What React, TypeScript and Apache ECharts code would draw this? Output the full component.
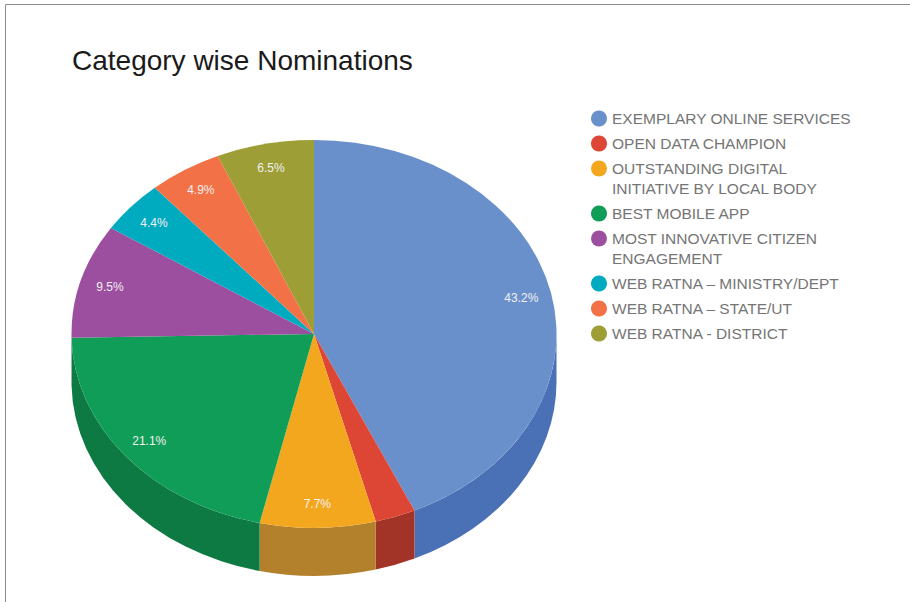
import React, { useEffect, useRef } from "react";
import * as echarts from "echarts";

const categories = [
  "EXEMPLARY ONLINE SERVICES",
  "OPEN DATA CHAMPION",
  "OUTSTANDING DIGITAL\nINITIATIVE BY LOCAL BODY",
  "BEST MOBILE APP",
  "MOST INNOVATIVE CITIZEN\nENGAGEMENT",
  "WEB RATNA – MINISTRY/DEPT",
  "WEB RATNA – STATE/UT",
  "WEB RATNA - DISTRICT",
];
const shares = [43.2, 2.7, 7.7, 21.1, 9.5, 4.4, 4.9, 6.5];
const topColors = ["#6a90cc", "#dd4535", "#f3a71e", "#0f9d58", "#9c4f9f", "#00abc0", "#f37146", "#9e9e36"];
const wallColors = ["#4a70b6", "#a23327", "#b3812c", "#0e7a43", "#733a76", "#007f8e", "#b45434", "#757528"];

const FONT = '"Liberation Sans", Arial, sans-serif';
const total = shares.reduce((a, b) => a + b, 0);

// Tilted pie geometry: ellipse of the top face and height of the rim.
const CX = 314;
const CY = 334;
const RX = 242.5;
const RY = 194;
const DEPTH = 48;
const LABEL_RADIUS = 0.875;
const MIN_LABELLED_SHARE = 4;

// Angles run clockwise from twelve o'clock, in degrees.
const point = (deg: number, scale = 1, dy = 0) => {
  const t = (deg * Math.PI) / 180;
  return [CX + RX * scale * Math.sin(t), CY - RY * scale * Math.cos(t) + dy];
};

const sliceRenderer = (index: number) => (_params: any, api: any) => {
  const value = api.value(0);
  const before = shares.slice(0, index).reduce((a, b) => a + b, 0);
  const start = (before / total) * 360;
  const end = ((before + value) / total) * 360;
  const children: any[] = [];

  // The rim is only visible along the front half of the ellipse.
  const a = Math.max(start, 90);
  const b = Math.min(end, 270);
  if (a < b) {
    const [x0, y0] = point(a);
    const [x1, y1] = point(b);
    children.push({
      type: "path",
      shape: {
        pathData:
          `M${x0} ${y0}A${RX} ${RY} 0 0 1 ${x1} ${y1}` +
          `L${x1} ${y1 + DEPTH}A${RX} ${RY} 0 0 0 ${x0} ${y0 + DEPTH}Z`,
      },
      style: { fill: wallColors[index] },
    });
  }

  const [sx, sy] = point(start);
  const [ex, ey] = point(end);
  const large = end - start > 180 ? 1 : 0;
  children.push({
    type: "path",
    shape: { pathData: `M${CX} ${CY}L${sx} ${sy}A${RX} ${RY} 0 ${large} 1 ${ex} ${ey}Z` },
    style: { fill: topColors[index] },
  });

  if (value >= MIN_LABELLED_SHARE) {
    const [lx, ly] = point((start + end) / 2, LABEL_RADIUS);
    children.push({
      type: "text",
      style: {
        text: `${value.toFixed(1)}%`,
        x: lx,
        y: ly,
        fill: "#f0f0f0",
        font: `12px ${FONT}`,
        align: "center",
        verticalAlign: "middle",
      },
    });
  }
  return { type: "group", children };
};

// Top edge of each legend row; wrapped names take a taller row.
const legendTops = [108.5, 133.5, 158.5, 203.5, 228.5, 273.5, 298.5, 323.5];
const WRAPPED_ICON = "path://M0 8A8 8 0 1 1 16 8A8 8 0 1 1 0 8ZM8 36L8 36";

export default function App() {
  const ref = useRef<HTMLDivElement>(null);

  useEffect(() => {
    document.body.style.margin = "0";
    const chart = echarts.init(ref.current!, null, { renderer: "svg" });
    chart.setOption({
      animation: false,
      backgroundColor: "#ffffff",
      title: {
        text: "Category wise Nominations",
        left: 72,
        top: 46,
        padding: 0,
        textStyle: { fontFamily: FONT, fontSize: 28, fontWeight: "normal", color: "#1a1a1a" },
      },
      legend: categories.map((name, i) => {
        const wrapped = name.includes("\n");
        return {
          data: [{ name, icon: wrapped ? WRAPPED_ICON : "circle" }],
          left: 591,
          top: legendTops[i],
          padding: 0,
          itemWidth: 16,
          itemHeight: wrapped ? 36 : 16,
          selectedMode: false,
          textStyle: { fontFamily: FONT, fontSize: 15.5, color: "#757575", lineHeight: 20 },
        };
      }),
      graphic: [
        // Frame along the top and left of the page.
        { type: "line", shape: { x1: 5.5, y1: 4.5, x2: 910, y2: 4.5 }, style: { stroke: "#8c8c8c", lineWidth: 1 } },
        { type: "line", shape: { x1: 5.5, y1: 4.5, x2: 5.5, y2: 602 }, style: { stroke: "#8c8c8c", lineWidth: 1 } },
      ],
      series: categories.map((name, i) => ({
        type: "custom",
        name,
        coordinateSystem: "none",
        silent: true,
        itemStyle: { color: topColors[i] },
        data: [[shares[i]]],
        renderItem: sliceRenderer(i),
      })),
    });
    return () => chart.dispose();
  }, []);

  return <div ref={ref} style={{ position: "fixed", left: 0, top: 0, width: 910, height: 602 }} />;
}
